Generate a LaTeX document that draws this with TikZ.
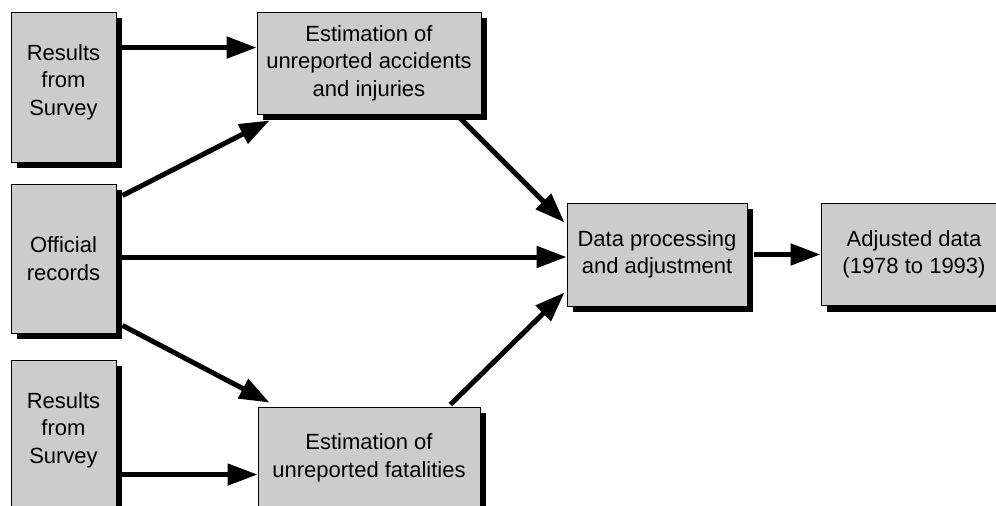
\documentclass[tikz,border=0pt]{standalone}
\usepackage{fontspec}
\setmainfont{Liberation Sans}
\usetikzlibrary{arrows.meta,shadows}
\newcommand{\upstack}[2]{\raisebox{#1}[\height][\depth]{\begin{tabular}{@{}c@{}}#2\end{tabular}}}
\begin{document}
\begin{tikzpicture}[x=1pt,y=-1pt,
  box/.style={draw=black,line width=0.9pt,fill=boxgray,align=center,
    inner sep=0pt,font=\fontsize{22}{27.5}\selectfont,
    drop shadow={shadow xshift=6pt,shadow yshift=-6pt,fill=black,opacity=1}},
  arr/.style={line width=5pt,-{Triangle[length=30pt,width=21pt]}}]
\definecolor{boxgray}{HTML}{CCCCCC}
\useasboundingbox (0,0) rectangle (996,506);
\clip (0,0) rectangle (996,506);
\node[box,minimum width=105pt,minimum height=150pt] (rs1) at (63.5,87) {\upstack{5pt}{Results\\from\\Survey}};
\node[box,minimum width=105pt,minimum height=149pt] (off) at (63.5,258.5) {Official\\records};
\node[box,minimum width=105pt,minimum height=150pt] (rs2) at (63.5,435) {\upstack{5pt}{Results\\from\\Survey}};
\node[box,minimum width=224pt,minimum height=102pt] (est1) at (369,63) {Estimation of\\unreported accidents\\and injuries};
\node[box,minimum width=222pt,minimum height=102pt] (est2) at (369,458) {Estimation of\\unreported fatalities};
\node[box,minimum width=180pt,minimum height=103pt] (data) at (657,254.5) {Data processing\\and adjustment};
\node[box,minimum width=186pt,minimum height=102pt] (adj) at (914,254.5) {Adjusted data\\(1978 to 1993)};
\draw[arr] ([shift={(6,36)}]rs1.north east) -- ([shift={(0,36)}]est1.north west);
\draw[arr] ([shift={(6,12)}]off.north east) -- ([shift={(13,6)}]est1.south west);
\draw[arr] ([shift={(6,-1.5)}]off.east) -- ([shift={(0,-1.5)}]data.west |- off.east);
\draw[arr] ([shift={(6,-8)}]off.south east) -- ([shift={(12,-4)}]est2.north west);
\draw[arr] ([shift={(6,115)}]rs2.north east) -- ([shift={(0,68)}]est2.north west);
\draw[arr] ([shift={(-23,2)}]est1.south east) -- ([shift={(-2,20)}]data.north west);
\draw[arr] ([shift={(-30,-2)}]est2.north east) -- ([shift={(-2,-14)}]data.south west);
\draw[arr] ([shift={(7,0)}]data.east) -- (adj.west);
\end{tikzpicture}
\end{document}
